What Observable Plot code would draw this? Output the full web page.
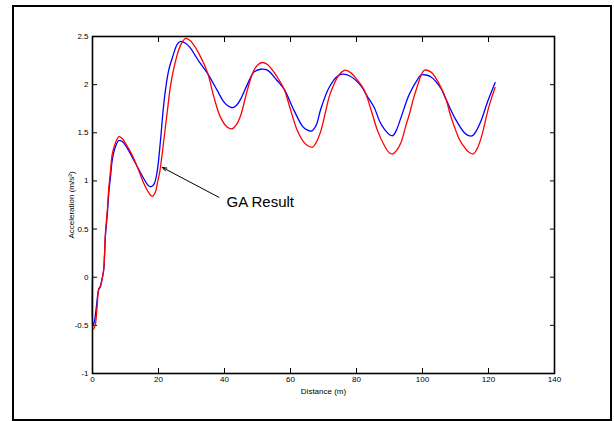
<!DOCTYPE html>
<html>
<head>
<meta charset="utf-8">
<script src="https://cdn.jsdelivr.net/npm/d3@7"></script>
<script src="https://cdn.jsdelivr.net/npm/@observablehq/plot@0.6"></script>
<style>
  html, body { margin: 0; padding: 0; background: #fff; }
  #wrap { position: relative; width: 614px; height: 421px; }
  #border { position: absolute; left: 12px; top: 5px; width: 600px; height: 416px; border: 2px solid #000; box-sizing: border-box; pointer-events: none; }
</style>
</head>
<body>
<div id="wrap"><div id="border"></div></div>
<script>
// Measured (red) acceleration vs distance
const redX = [0,0.2,0.8,1.3,1.9,2.4,2.9,3.4,3.9,4.5,4.95,5.5,6,7,8,9,10,12,14,15.6,17,18.1,19,19.8,20.4,21,21.6,22.7,23.7,25.2,26.7,28.2,29.5,30.5,32.3,34.8,36.8,38.8,40.8,42.2,43.5,44.9,46.9,48.9,50.2,51.5,53,55,56.5,58.1,60.1,62.1,64.1,65.5,66.7,67.8,69.2,70.5,71.7,73,74.3,75.5,76.6,78,80,82.4,84.4,86.4,88.4,90,91,92,93.5,95,96,97.3,98.6,99.6,100.6,102.6,104,105.6,107.1,108.5,109.7,111.2,112.7,114,115.4,116.5,117.8,119.8,121,122];
const redY = [0,-0.54,-0.5,-0.35,-0.13,-0.1,-0.02,0.08,0.45,0.7,0.93,1.12,1.28,1.4,1.46,1.44,1.39,1.27,1.11,0.97,0.88,0.84,0.88,1.0,1.1,1.25,1.42,1.73,2.0,2.25,2.41,2.48,2.46,2.42,2.32,2.13,1.87,1.66,1.56,1.54,1.58,1.68,1.94,2.15,2.21,2.23,2.21,2.13,2.05,1.95,1.73,1.52,1.4,1.36,1.35,1.4,1.52,1.7,1.87,1.99,2.08,2.13,2.15,2.13,2.06,1.94,1.74,1.52,1.37,1.29,1.28,1.31,1.4,1.58,1.69,1.86,2.0,2.1,2.15,2.13,2.07,1.97,1.85,1.68,1.56,1.43,1.35,1.3,1.28,1.33,1.45,1.73,1.87,1.97];
// GA result (blue)
const blueX = [0,0.5,1.2,1.9,2.3,2.9,3.4,3.9,4.5,4.95,5.5,6,7,8,9,10,12,14,15.6,17,17.8,18.7,19.6,20.6,21.6,22.7,23.3,24.2,25.7,26.7,28.2,29.7,31,32.3,34.8,37.8,39.8,41,42.4,43.5,44.9,46.9,48.9,50.9,53,56,58.1,61.1,63.6,65,66.5,67.8,69.2,71.7,74.3,75.8,78,81.3,83.4,85.4,87,88.4,90,91,92,93.5,96,98.6,99.5,101,102.6,105.6,107.1,109.7,112.7,114,115.2,116.3,117.8,119.8,122];
const blueY = [-0.5,-0.47,-0.3,-0.12,-0.1,-0.02,0.08,0.42,0.66,0.88,1.06,1.22,1.36,1.42,1.41,1.37,1.25,1.12,1.02,0.95,0.94,0.97,1.1,1.42,1.8,2.08,2.18,2.28,2.42,2.45,2.43,2.38,2.31,2.24,2.12,1.94,1.82,1.78,1.76,1.78,1.85,2.0,2.13,2.16,2.15,2.04,1.95,1.73,1.57,1.53,1.52,1.58,1.75,1.97,2.09,2.11,2.09,1.99,1.87,1.76,1.62,1.54,1.48,1.47,1.52,1.66,1.9,2.06,2.1,2.1,2.08,1.96,1.85,1.66,1.5,1.47,1.47,1.52,1.63,1.83,2.02];

const xTicks = [0,20,40,60,80,100,120,140];
const yTicks = [-1,-0.5,0,0.5,1,1.5,2,2.5];

// Annotation
const annoText = ["GA Result"];
const annoTextX = [40.6];
const annoTextY = [0.78];
const arrowFrom = [38.3, 0.83];
const arrowTo = [21.15, 1.14];

const red = redX.map((x, i) => ({x, y: redY[i]}));
const blue = blueX.map((x, i) => ({x, y: blueY[i]}));

const chart = Plot.plot({
  width: 614,
  height: 421,
  marginLeft: 92,
  marginRight: 60,
  marginTop: 36,
  marginBottom: 48,
  style: {fontFamily: "'Liberation Sans', Arial, sans-serif", fontSize: "8px", background: "transparent", color: "#000"},
  x: {domain: [0, 140]},
  y: {domain: [-1, 2.5]},
  marks: [
    Plot.axisX({anchor: "bottom", ticks: xTicks, tickSize: -5, tickPadding: 8, tickFormat: d => String(d), label: "Distance (m)", labelAnchor: "center", labelArrow: "none", labelOffset: 20}),
    Plot.axisX({anchor: "top", ticks: xTicks, tickSize: -5, tickFormat: () => "", label: null}),
    Plot.axisY({anchor: "left", ticks: yTicks, tickSize: -5, tickPadding: 9, tickFormat: d => String(d), label: "Acceleration (m/s²)", labelAnchor: "center", labelArrow: "none", labelOffset: 24}),
    Plot.axisY({anchor: "right", ticks: yTicks, tickSize: -5, tickFormat: () => "", label: null}),
    Plot.line(blue, {x: "x", y: "y", stroke: "#0000ff", strokeWidth: 1.3, curve: "catmull-rom"}),
    Plot.line(red, {x: "x", y: "y", stroke: "#ff0000", strokeWidth: 1.3, curve: "catmull-rom"}),
    Plot.frame({stroke: "#000", strokeWidth: 1.6}),
    Plot.arrow([0], {x1: () => arrowFrom[0], y1: () => arrowFrom[1], x2: () => arrowTo[0], y2: () => arrowTo[1], stroke: "#000", strokeWidth: 1, headLength: 7, headAngle: 40}),
    Plot.text(annoText, {x: (d, i) => annoTextX[i], y: (d, i) => annoTextY[i], text: d => d, textAnchor: "start", fontSize: 15, fill: "#000"})
  ]
});
document.getElementById("wrap").prepend(chart);
</script>
</body>
</html>
